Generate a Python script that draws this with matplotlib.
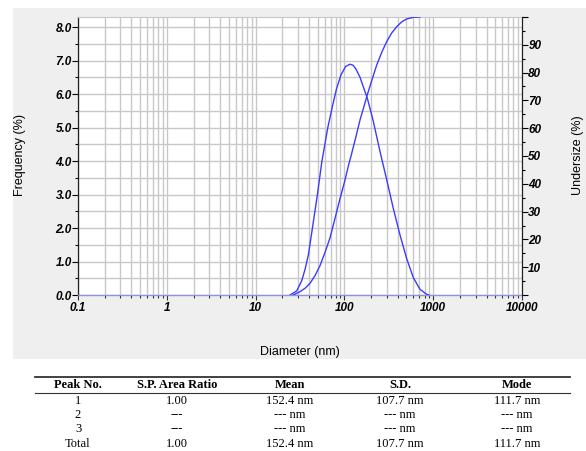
import numpy as np
import matplotlib
matplotlib.use('Agg')
import matplotlib.pyplot as plt
from matplotlib.ticker import FixedLocator, FixedFormatter, MultipleLocator, LogLocator, NullFormatter
from matplotlib.patches import Rectangle
from matplotlib.lines import Line2D

plt.rcParams['font.family'] = ['Liberation Sans', 'DejaVu Sans']

# frequency distribution (%)
freq_d = [24.4, 29, 33, 36, 39.3, 43.6, 49.6, 55.5, 64.8, 73.8, 81.8, 91.5, 103,
          115.6, 125, 134, 150, 163, 181, 211, 251, 299, 355, 423, 502, 597, 710,
          845, 900]
freq = [0, 0.12, 0.42, 0.76, 1.2, 1.99, 2.99, 3.95, 4.98, 5.67, 6.17, 6.57, 6.82,
        6.89, 6.86, 6.76, 6.5, 6.22, 5.88, 5.2, 4.3, 3.45, 2.59, 1.79, 1.09, 0.52, 0.17,
        0.02, 0]

# cumulative undersize (%)
cum_d = [26.6, 31.6, 36, 41, 46.7, 53, 60, 68.8, 78.3, 89, 100, 111, 121, 135, 150,
         165, 181, 205, 231, 265, 299, 340, 388, 440, 501, 600, 708]
cum = [0, 1.2, 2.4, 4.2, 7.0, 10.5, 15, 20.5, 27.5, 34.5, 40.5, 46.5, 51, 57, 63,
       67.5, 72, 77.5, 82.7, 87.5, 91.1, 94.2, 96.5, 98.2, 99.3, 99.9, 100]

x_ticks = [0.1, 1, 10, 100, 1000, 10000]
x_labels = ['0.1', '1', '10', '100', '1000', '10000']

col_names = ['Peak No.', 'S.P. Area Ratio', 'Mean', 'S.D.', 'Mode']
rows = [
    ['1', '1.00', '152.4 nm', '107.7 nm', '111.7 nm'],
    ['2', '---', '--- nm', '--- nm', '--- nm'],
    ['3', '---', '--- nm', '--- nm', '--- nm'],
    ['Total', '1.00', '152.4 nm', '107.7 nm', '111.7 nm'],
]

W, H = 586, 451
fig = plt.figure(figsize=(W/100, H/100), dpi=100)
fig.patch.set_facecolor('white')
fig.patches.append(Rectangle((13/W, 1-359/H), 1-13/W, 351/H, transform=fig.transFigure,
                             facecolor='#efefef', edgecolor='none', zorder=-10))

ax = fig.add_axes([78/W, 1-295/H, 444/W, 278/H])
ax.set_facecolor('white')
ax.set_xscale('log')
ax.set_xlim(0.1, 10000)
ax.set_ylim(0, 8.3)

blue = '#3b3bff'
ax.plot(freq_d, freq, color=blue, lw=1.0)

ax.xaxis.set_major_locator(FixedLocator(x_ticks))
ax.xaxis.set_major_formatter(FixedFormatter(x_labels))
ax.xaxis.set_minor_locator(LogLocator(base=10, subs=np.arange(2, 10)))
ax.xaxis.set_minor_formatter(NullFormatter())
ax.yaxis.set_major_locator(MultipleLocator(1))
ax.yaxis.set_minor_locator(MultipleLocator(0.5))
ax.yaxis.set_major_formatter(plt.FormatStrFormatter('%.1f'))

ax.grid(True, which='both', color='#c8c8c8', lw=1.0, zorder=0)
ax.set_axisbelow(True)

tick_font = dict(fontsize=8.5, fontweight='bold', fontstyle='italic')
for lab in ax.get_xticklabels() + ax.get_yticklabels():
    lab.set(**tick_font)
ax.tick_params(axis='x', which='major', direction='out', length=3.5, width=0.8, pad=1.5,
               color='#333333')
ax.tick_params(axis='x', which='minor', direction='out', length=2.2, width=0.8,
               color='#333333')
ax.tick_params(axis='y', which='major', direction='out', length=4, width=0.8, pad=0.5)
ax.tick_params(axis='y', which='minor', direction='out', length=2.5, width=0.8)

ax.spines['left'].set_color('#222222')
ax.spines['left'].set_linewidth(0.9)
# baseline drawn as the faint dotted blue zero line seen in the instrument plot
ax.spines['bottom'].set_color('#8f92d6')
ax.spines['bottom'].set_linestyle((0, (1.5, 1)))
ax.spines['bottom'].set_linewidth(1.0)
ax.spines['top'].set_color('#c8c8c8')
ax.spines['right'].set_color('#222222')

ax2 = ax.twinx()
ax2.set_ylim(0, 100)
ax2.plot(cum_d, cum, color=blue, lw=1.0)
ax2.yaxis.set_major_locator(FixedLocator(list(range(0, 101, 10))))
ax2.yaxis.set_major_formatter(FixedFormatter([''] + [str(v) for v in range(10, 100, 10)] + ['']))
ax2.yaxis.set_minor_locator(MultipleLocator(5))
ax2.tick_params(axis='y', which='major', direction='out', length=4, width=0.8, pad=0.5)
ax2.tick_params(axis='y', which='minor', direction='out', length=2.5, width=0.8)
for lab in ax2.get_yticklabels():
    lab.set(**tick_font)
ax2.spines['right'].set_color('#222222')
ax2.spines['top'].set_visible(False)
ax2.spines['left'].set_visible(False)
ax2.spines['bottom'].set_visible(False)

fig.text(20/W, 1-155/H, 'Frequency (%)', rotation=90, ha='center', va='center', fontsize=9)
fig.text(578/W, 1-155/H, 'Undersize (%)', rotation=90, ha='center', va='center', fontsize=9)
fig.text(300/W, 1-352/H, 'Diameter (nm)', ha='center', va='center', fontsize=9)

# results table
serif = ['Liberation Serif', 'DejaVu Serif']
col_x = [78, 177, 290, 400, 517]
fig.add_artist(Line2D([35/W, 570/W], [1-377/H, 1-377/H], color='#333333', lw=1.3))
fig.add_artist(Line2D([35/W, 570/W], [1-393/H, 1-393/H], color='#333333', lw=0.8))
for cx, name in zip(col_x, col_names):
    fig.text(cx/W, 1-385/H, name, ha='center', va='center', fontsize=9,
             fontweight='bold', family=serif)
row_y = [401, 415, 429, 444]
for ry, row in zip(row_y, rows):
    for cx, val in zip(col_x, row):
        fig.text(cx/W, 1-ry/H, val, ha='center', va='center', fontsize=9, family=serif)

fig.savefig('out.png', dpi=100)
